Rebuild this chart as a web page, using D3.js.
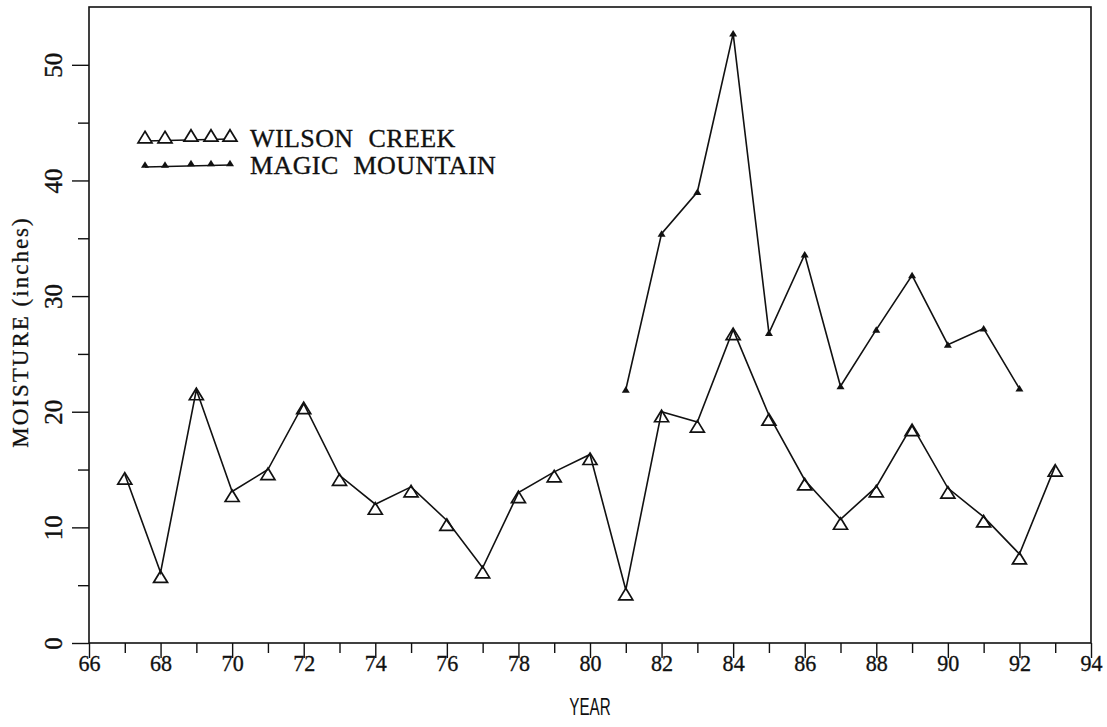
<!DOCTYPE html>
<html>
<head>
<meta charset="utf-8">
<script src="https://cdn.jsdelivr.net/npm/d3@7"></script>
<style>
  html, body { margin: 0; padding: 0; background: #fff; }
  svg { display: block; }
</style>
</head>
<body>
<svg id="chart" width="1107" height="727"></svg>
<script>
// Annual moisture readings (inches)
const wilsonYears = [67,68,69,70,71,72,73,74,75,76,77,78,79,80,81,82,83,84,85,86,87,88,89,90,91,92,93];
const wilsonValues = [14.6,6.1,21.9,13.1,15.0,20.7,14.5,12.0,13.5,10.6,6.5,13.0,14.8,16.3,4.6,20.0,19.1,27.1,19.7,14.1,10.7,13.5,18.8,13.4,10.9,7.7,15.3];

const magicYears = [81,82,83,84,85,86,87,88,89,90,91,92];
const magicValues = [21.9,35.4,39.0,52.7,26.8,33.6,22.2,27.1,31.8,25.8,27.2,22.0];

const xMajorTicks = [66,68,70,72,74,76,78,80,82,84,86,88,90,92,94];
const xMinorTicks = [67,69,71,73,75,77,79,81,83,85,87,89,91,93];
const yMajorTicks = [0,10,20,30,40,50];
const yMinorTicks = [5,15,25,35,45];

const seriesNames = ["WILSON CREEK", "MAGIC MOUNTAIN"];
const xTitle = "YEAR";
const yTitle = "MOISTURE (inches)";

const svg = d3.select("#chart");
const plot = { left: 89, right: 1091, top: 7, bottom: 643 };

const x = d3.scaleLinear().domain([66, 94]).range([plot.left, plot.right]);
const y = d3.scaleLinear().domain([0, 55]).range([plot.bottom, plot.top]);

const ink = "#111";
const serif = "'Liberation Serif', 'DejaVu Serif', serif";

// frame
svg.append("rect")
  .attr("x", plot.left).attr("y", plot.top)
  .attr("width", plot.right - plot.left).attr("height", plot.bottom - plot.top)
  .attr("fill", "none").attr("stroke", ink).attr("stroke-width", 1.6);

// x axis: labelled even years, short ticks for odd years
const xAxisMajor = svg.append("g")
  .attr("transform", `translate(0,${plot.bottom})`)
  .call(d3.axisBottom(x).tickValues(xMajorTicks).tickSize(15).tickSizeOuter(0).tickFormat(d3.format("d")));
const xAxisMinor = svg.append("g")
  .attr("transform", `translate(0,${plot.bottom})`)
  .call(d3.axisBottom(x).tickValues(xMinorTicks).tickSize(10).tickSizeOuter(0).tickFormat(""));

// y axis: labelled every 10, short ticks in between
const yAxisMajor = svg.append("g")
  .attr("transform", `translate(${plot.left},0)`)
  .call(d3.axisLeft(y).tickValues(yMajorTicks).tickSize(17).tickSizeOuter(0).tickFormat(d3.format("d")));
const yAxisMinor = svg.append("g")
  .attr("transform", `translate(${plot.left},0)`)
  .call(d3.axisLeft(y).tickValues(yMinorTicks).tickSize(11).tickSizeOuter(0).tickFormat(""));

[xAxisMajor, xAxisMinor, yAxisMajor, yAxisMinor].forEach(g => {
  g.select(".domain").remove();
  g.selectAll(".tick line").attr("stroke", ink).attr("stroke-width", 1.4);
});

// year labels, slightly condensed (scaling is about each tick's own origin)
xAxisMajor.selectAll(".tick text")
  .attr("font-family", serif)
  .attr("font-size", 24)
  .attr("fill", ink).attr("stroke", ink).attr("stroke-width", 0.35)
  .attr("y", 11)
  .attr("dy", "0.71em")
  .attr("transform", "scale(0.92,1)");

// rotated y tick labels
yAxisMajor.selectAll(".tick text")
  .attr("font-family", serif)
  .attr("font-size", 25)
  .attr("fill", ink).attr("stroke", ink).attr("stroke-width", 0.35)
  .attr("x", null).attr("dy", null)
  .attr("text-anchor", "middle")
  .attr("transform", "translate(-27,0) rotate(-90)");

// axis titles
svg.append("text")
  .attr("transform", `translate(${x(80)},715) scale(0.66,1)`)
  .attr("text-anchor", "middle")
  .attr("font-family", "'Liberation Sans', sans-serif")
  .attr("font-size", 23)
  .attr("fill", ink)
  .text(xTitle);

svg.append("text")
  .attr("transform", "translate(28,332) rotate(-90)")
  .attr("text-anchor", "middle")
  .attr("font-family", serif)
  .attr("font-size", 23)
  .attr("letter-spacing", 2)
  .attr("fill", ink).attr("stroke", ink).attr("stroke-width", 0.3)
  .text(yTitle);

// markers: open triangle for Wilson Creek, small filled triangle for Magic Mountain
const openTri = (cx, cy) => `M${cx},${cy - 1.5}L${cx + 7},${cy + 10}L${cx - 7},${cy + 10}Z`;
const filledTri = (cx, cy) => `M${cx},${cy - 3.5}L${cx + 4},${cy + 3}L${cx - 4},${cy + 3}Z`;

const line = d3.line().x(d => x(d[0])).y(d => y(d[1]));

const wilson = d3.zip(wilsonYears, wilsonValues);
const magic = d3.zip(magicYears, magicValues);

svg.append("path").datum(magic)
  .attr("d", line).attr("fill", "none").attr("stroke", ink).attr("stroke-width", 1.6);
svg.append("g").selectAll("path").data(magic).join("path")
  .attr("d", d => filledTri(x(d[0]), y(d[1])))
  .attr("fill", ink);

svg.append("path").datum(wilson)
  .attr("d", line).attr("fill", "none").attr("stroke", ink).attr("stroke-width", 1.6);
svg.append("g").selectAll("path").data(wilson).join("path")
  .attr("d", d => openTri(x(d[0]), y(d[1])))
  .attr("fill", "none").attr("stroke", ink).attr("stroke-width", 1.7);

// legend
const legend = svg.append("g");
const legendMarkX = [145, 165, 191, 211, 230];
const legendRows = [
  { name: seriesNames[0], lineY: 140, markY: 132, open: true, textY: 147 },
  { name: seriesNames[1], lineY: 166, markY: 164, open: false, textY: 174 }
];
legendRows.forEach(r => {
  legend.append("line")
    .attr("x1", legendMarkX[0]).attr("x2", legendMarkX[legendMarkX.length - 1])
    .attr("y1", r.lineY + 1).attr("y2", r.lineY - 1)
    .attr("stroke", ink).attr("stroke-width", 1.4);
  legendMarkX.forEach((mx, i) => {
    const my = r.markY + (i < 2 ? 0.8 : -0.8);
    legend.append("path")
      .attr("d", r.open ? openTri(mx, my) : filledTri(mx, my))
      .attr("fill", r.open ? "#fff" : ink)
      .attr("stroke", r.open ? ink : "none")
      .attr("stroke-width", 1.7);
  });
  legend.append("text")
    .attr("x", 250).attr("y", r.textY)
    .attr("font-family", serif)
    .attr("font-size", 26)
    .attr("word-spacing", 8)
    .attr("letter-spacing", 0.4)
    .attr("fill", ink).attr("stroke", ink).attr("stroke-width", 0.35)
    .text(r.name);
});
</script>
</body>
</html>
